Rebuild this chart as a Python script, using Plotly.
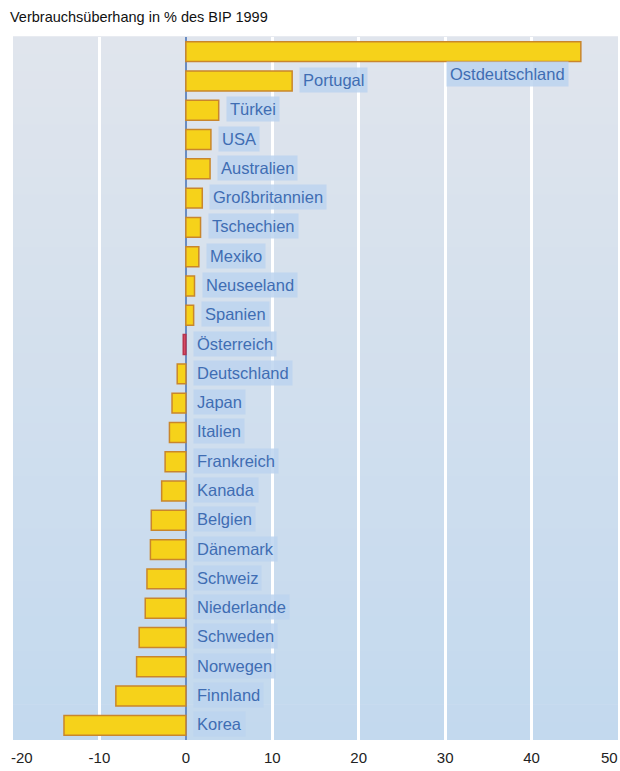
import plotly.graph_objects as go

countries = ["Ostdeutschland", "Portugal", "Türkei", "USA", "Australien", "Großbritannien",
             "Tschechien", "Mexiko", "Neuseeland", "Spanien", "Österreich", "Deutschland",
             "Japan", "Italien", "Frankreich", "Kanada", "Belgien", "Dänemark", "Schweiz",
             "Niederlande", "Schweden", "Norwegen", "Finnland", "Korea"]
values = [45.7, 12.3, 3.8, 2.9, 2.8, 1.9, 1.7, 1.5, 1.0, 0.9, -0.3, -1.0,
          -1.6, -1.9, -2.4, -2.8, -4.0, -4.1, -4.5, -4.7, -5.4, -5.7, -8.1, -14.1]
x_ticks = [-20, -10, 0, 10, 20, 30, 40, 50]
title_text = "Verbrauchsüberhang in % des BIP 1999"

FONT = "Liberation Sans, Arial, sans-serif"
BAR_FILL = "#f6d21a"
BAR_LINE = "#c9862c"
SPECIAL = {"Österreich": ("#d44a64", "#b8334d")}
LABEL_COLOR = "#3f6db3"
LABEL_BG = "rgba(188,212,238,0.85)"
TICK_FONT = dict(family=FONT, size=15, color="#222")

fills = [SPECIAL.get(c, (BAR_FILL, BAR_LINE))[0] for c in countries]
lines = [SPECIAL.get(c, (BAR_FILL, BAR_LINE))[1] for c in countries]

fig = go.Figure()
fig.add_trace(go.Bar(
    x=values, y=countries, orientation="h", width=0.68,
    marker=dict(color=fills, line=dict(color=lines, width=1.5)),
    hoverinfo="skip",
))

# background gradient (styling only)
top = (224, 229, 237)
bot = (195, 217, 238)
n = 40
for i in range(n):
    t = i / (n - 1)
    col = tuple(round(top[k] + (bot[k] - top[k]) * t) for k in range(3))
    fig.add_shape(type="rect", xref="x domain", yref="y domain",
                  x0=0, x1=1, y0=1 - (i + 1) / n, y1=1 - i / n + 0.001,
                  fillcolor="rgb(%d,%d,%d)" % col, line=dict(width=0), layer="below")

label_font = dict(family=FONT, size=16.5, color=LABEL_COLOR)
for i, (c, v) in enumerate(zip(countries, values)):
    if i == 0:
        fig.add_annotation(x=v, y=c, text=c, showarrow=False, xanchor="right",
                           xshift=-12, yshift=-22, font=label_font,
                           bgcolor=LABEL_BG, borderpad=3)
    else:
        fig.add_annotation(x=max(v, 0), y=c, text=c, showarrow=False, xanchor="left",
                           xshift=7, yshift=1, font=label_font,
                           bgcolor=LABEL_BG, borderpad=3)

fig.add_annotation(x=0, xref="paper", y=1, yref="paper", yshift=20, xshift=-5,
                   text=title_text, showarrow=False, xanchor="left", yanchor="middle",
                   font=dict(family=FONT, size=14.5, color="#111"))

# edge tick labels (kept inside the page like in the reference)
inner_ticks = x_ticks[1:-1]
fig.add_annotation(x=x_ticks[0], xref="x", y=0, yref="paper", yshift=-17, xshift=-4,
                   text=str(x_ticks[0]), showarrow=False, xanchor="left", yanchor="middle",
                   font=TICK_FONT)
fig.add_annotation(x=x_ticks[-1], xref="x", y=0, yref="paper", yshift=-17, xshift=2,
                   text=str(x_ticks[-1]), showarrow=False, xanchor="right", yanchor="middle",
                   font=TICK_FONT)

fig.update_xaxes(range=[-20, 50], tickvals=inner_ticks, ticktext=[str(t) for t in inner_ticks],
                 showgrid=True, gridcolor="white", gridwidth=2.5,
                 zeroline=True, zerolinecolor="#6a8cc2", zerolinewidth=1.5,
                 tickfont=TICK_FONT,
                 ticks="outside", ticklen=4, tickcolor="rgba(0,0,0,0)",
                 automargin=False, fixedrange=True)
fig.update_yaxes(type="category", categoryorder="array", categoryarray=countries,
                 range=[len(countries) - 0.5, -0.5], autorange=False,
                 showticklabels=False, showgrid=False, zeroline=False, fixedrange=True)

fig.update_layout(width=620, height=771, margin=dict(l=13, r=2, t=37, b=31),
                  paper_bgcolor="white", plot_bgcolor="rgba(0,0,0,0)",
                  showlegend=False, bargap=0.3)

fig.write_html("out.html", config={"displayModeBar": False},
               post_script="document.body.style.margin='0';document.body.style.overflow='hidden';")
